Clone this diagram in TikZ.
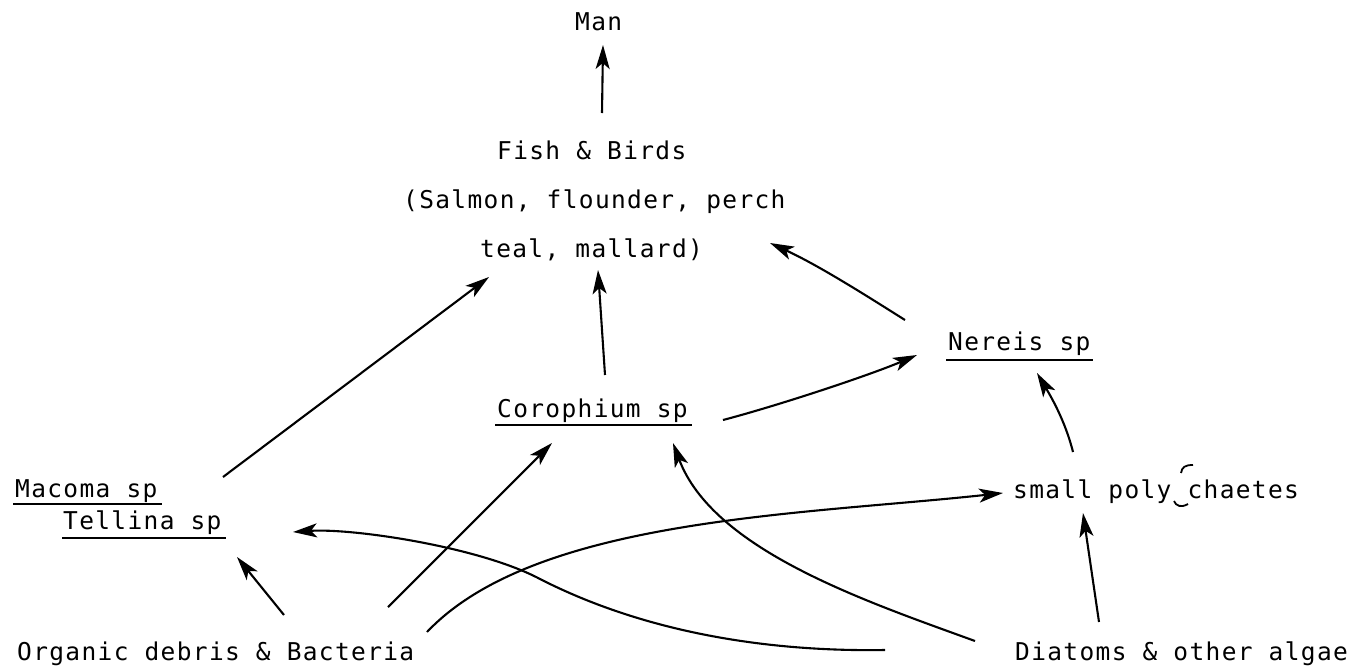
\documentclass[tikz,border=0pt]{standalone}
\usepackage{fontspec}
\newfontfamily\tw[LetterSpace=5.5]{DejaVu Sans Mono}
\usetikzlibrary{arrows.meta,calc}
\begin{document}
\begin{tikzpicture}[x=1pt,y=-1pt,
  lbl/.style={anchor=base west,inner sep=0pt,font=\tw\fontsize{24.5}{30}\selectfont},
  con/.style={line width=2.1pt,-{Stealth[length=24pt,width=14pt,inset=6pt]}},
  ul/.style={line width=1.8pt},
  mk/.style={line width=1.8pt}]
\useasboundingbox (0,0) rectangle (1360,670);
% labels
\node[lbl] (man)    at (575,30)  {Man};
\node[lbl] (fish)   at (497,159) {Fish \& Birds};
\node[lbl] (salmon) at (403,208) {(Salmon, flounder, perch};
\node[lbl] (teal)   at (480,257) {teal, mallard)};
\node[lbl] (cor)    at (497,417) {Corophium sp};
\node[lbl] (ner)    at (948,350) {Nereis sp};
\node[lbl] (mac)    at (15,497)  {Macoma sp};
\node[lbl] (tel)    at (63,529)  {Tellina sp};
\node[lbl] (org)    at (17,660)  {Organic debris \& Bacteria};
\node[lbl] (poly)   at (1013,498) {small poly chaetes};
\node[lbl] (dia)    at (1015,660) {Diatoms \& other algae};
% underlines
\draw[ul] ([shift={(-2,8)}]cor.base west) -- ([shift={(195,8)}]cor.base west);
\draw[ul] ([shift={(-2,10)}]ner.base west) -- ([shift={(145,10)}]ner.base west);
\draw[ul] ([shift={(-2,7)}]mac.base west) -- ([shift={(147,7)}]mac.base west);
\draw[ul] ([shift={(-1,9)}]tel.base west) -- ([shift={(163,9)}]tel.base west);
% close-up marks in poly chaetes
\draw[mk] ([shift={(168,-25)}]poly.base west) .. controls ([shift={(169,-31)}]poly.base west) and ([shift={(172,-33)}]poly.base west) .. ([shift={(180,-33)}]poly.base west);
\draw[mk] ([shift={(161,3)}]poly.base west) .. controls ([shift={(163,8)}]poly.base west) and ([shift={(168,10)}]poly.base west) .. ([shift={(175,6)}]poly.base west);
% connectors
\draw[con] ([shift={(105,-46)}]fish.base west) -- ([shift={(28,15)}]man.base west);
\draw[con] ([shift={(108,-42)}]cor.base west) -- ([shift={(118,13)}]teal.base west);
\draw[con] ([shift={(208,-20)}]mac.base west) -- ([shift={(9,20)}]teal.base west);
\draw[con] ([shift={(-43,-30)}]ner.base west) .. controls (870,298) and (820,266) .. ([shift={(290,-14)}]teal.base west);
\draw[con] ([shift={(226,3)}]cor.base west) .. controls (780,405) and (870,375) .. ([shift={(-31,5)}]ner.base west);
\draw[con] ([shift={(60,-46)}]poly.base west) .. controls (1065,420) and (1050,395) .. ([shift={(89,23)}]ner.base west);
\draw[con] ([shift={(84,-38)}]dia.base west) -- ([shift={(70,15)}]poly.base west);
\draw[con] ([shift={(410,-28)}]org.base west) .. controls (535,518) and (800,515) .. ([shift={(-10,-5)}]poly.base west);
\draw[con] ([shift={(371,-53)}]org.base west) -- ([shift={(55,26)}]cor.base west);
\draw[con] ([shift={(-40,-19)}]dia.base west) .. controls (865,601) and (713,550) .. ([shift={(176,26)}]cor.base west);
\draw[con] ([shift={(-130,-10)}]dia.base west) .. controls (760,652) and (640,630) .. (540,579) .. controls (480,547) and (353,528) .. ([shift={(230,3)}]tel.base west);
\draw[con] ([shift={(267,-45)}]org.base west) -- ([shift={(174,28)}]tel.base west);
\end{tikzpicture}
\end{document}
